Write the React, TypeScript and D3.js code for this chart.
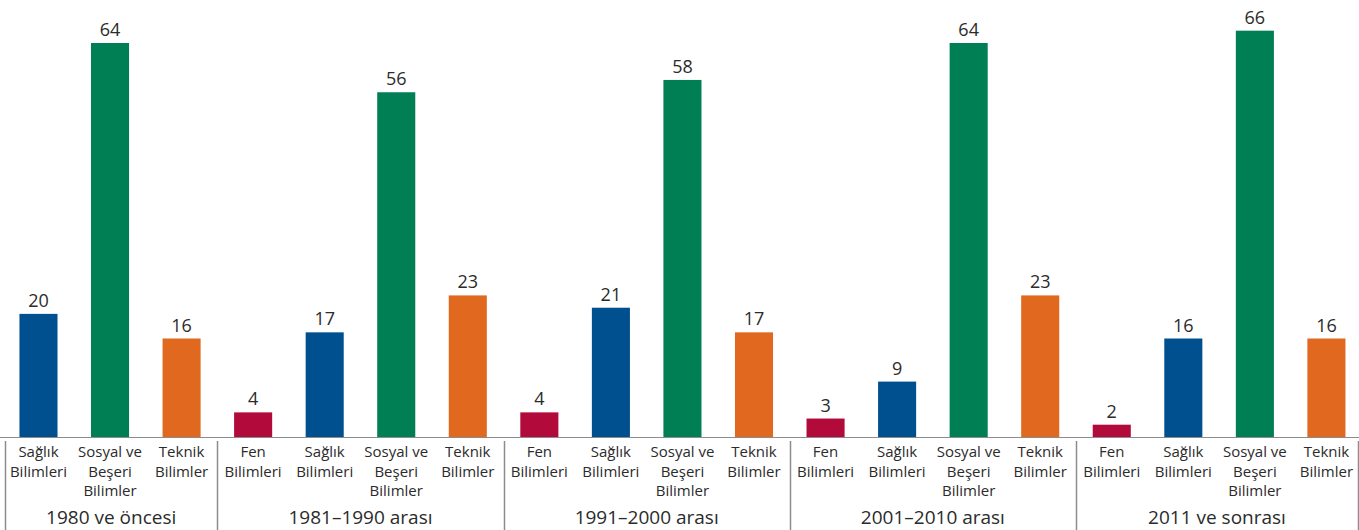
import { useRef, useEffect } from 'react'
import * as d3 from 'd3'

const W = 1359
const H = 530
const BASE_Y = 437
const TOP_Y = 43 // y of value 64
const SEP_LEFT = 5
const SEP_RIGHT = 1358
const FONT = "'Open Sans', sans-serif"
const TEXT = '#2b2b2b'
const LINE = '#8c8c8c'

const groups = ['1980 ve öncesi', '1981–1990 arası', '1991–2000 arası', '2001–2010 arası', '2011 ve sonrası']
const fields = ['Fen Bilimleri', 'Sağlık Bilimleri', 'Sosyal ve Beşeri Bilimler', 'Teknik Bilimler']
const fieldLines = [['Fen', 'Bilimleri'], ['Sağlık', 'Bilimleri'], ['Sosyal ve', 'Beşeri', 'Bilimler'], ['Teknik', 'Bilimler']]
const fieldColors = ['#b20a3a', '#00508f', '#007f55', '#e0681f']

// null = no bar in that period
const fen = [null, 4, 4, 3, 2]
const saglik = [20, 17, 21, 9, 16]
const sosyal = [64, 56, 58, 64, 66]
const teknik = [16, 23, 17, 23, 16]
const series = [fen, saglik, sosyal, teknik]

interface Bar {
  key: string
  group: number
  field: number
  value: number
}

const bars: Bar[] = []
groups.forEach((_, gi) => {
  series.forEach((s, fi) => {
    const v = s[gi]
    if (v == null) return
    bars.push({ key: `${gi}-${fi}`, group: gi, field: fi, value: v })
  })
})

export default function App() {
  const svgRef = useRef<SVGSVGElement>(null)

  useEffect(() => {
    const svg = svgRef.current
    if (!svg) return
    const sel = d3.select(svg)
    sel.selectAll('*').remove()

    const x = d3
      .scaleBand()
      .domain(bars.map((d) => d.key))
      .range([2.7, 1362.2])
      .paddingInner(0.468)
      .paddingOuter(0.234)

    const y = d3.scaleLinear().domain([0, 64]).range([BASE_Y, TOP_Y])
    const step = x.step()

    // bars
    sel
      .append('g')
      .selectAll('rect')
      .data(bars)
      .join('rect')
      .attr('x', (d) => x(d.key)!)
      .attr('width', x.bandwidth())
      .attr('y', (d) => y(d.value))
      .attr('height', (d) => y(0) - y(d.value))
      .attr('fill', (d) => fieldColors[d.field])

    // value labels
    sel
      .append('g')
      .selectAll('text')
      .data(bars)
      .join('text')
      .attr('x', (d) => x(d.key)! + x.bandwidth() / 2)
      .attr('y', (d) => y(d.value) - 7)
      .attr('text-anchor', 'middle')
      .attr('font-family', FONT)
      .attr('font-size', 18)
      .attr('fill', TEXT)
      .text((d) => d.value)

    // baseline
    sel
      .append('line')
      .attr('x1', 0)
      .attr('x2', W)
      .attr('y1', BASE_Y + 0.5)
      .attr('y2', BASE_Y + 0.5)
      .attr('stroke', LINE)
      .attr('stroke-width', 1)

    // category labels
    const cat = sel
      .append('g')
      .selectAll('text')
      .data(bars)
      .join('text')
      .attr('text-anchor', 'middle')
      .attr('font-family', FONT)
      .attr('font-size', 15)
      .attr('fill', TEXT)
    cat
      .selectAll('tspan')
      .data((d) => fieldLines[d.field].map((t) => ({ t, cx: x(d.key)! + x.bandwidth() / 2 })))
      .join('tspan')
      .attr('x', (l) => l.cx)
      .attr('y', (_, i) => 457 + i * 19.5)
      .text((l) => l.t)

    // group separators + labels
    const groupExtents = groups.map((g, gi) => {
      const gb = bars.filter((b) => b.group === gi)
      const first = x(gb[0].key)! - (step - x.bandwidth()) / 2
      const last = x(gb[gb.length - 1].key)! + x.bandwidth() + (step - x.bandwidth()) / 2
      return { g, x0: Math.max(first, SEP_LEFT), x1: Math.min(last, SEP_RIGHT) }
    })
    const sepXs = [groupExtents[0].x0, ...groupExtents.map((e) => e.x1)]

    sel
      .append('g')
      .selectAll('line')
      .data(sepXs)
      .join('line')
      .attr('x1', (d) => Math.round(d) + 0.5)
      .attr('x2', (d) => Math.round(d) + 0.5)
      .attr('y1', 441)
      .attr('y2', H)
      .attr('stroke', LINE)
      .attr('stroke-width', 1.5)

    sel
      .append('g')
      .selectAll('text')
      .data(groupExtents)
      .join('text')
      .attr('x', (d) => (d.x0 + d.x1) / 2)
      .attr('y', 524)
      .attr('text-anchor', 'middle')
      .attr('font-family', FONT)
      .attr('font-size', 19)
      .attr('fill', TEXT)
      .text((d) => d.g)
  }, [])

  return (
    <div style={{ position: 'fixed', left: 0, top: 0, width: W, height: H, background: '#fff' }}>
      <svg ref={svgRef} width={W} height={H} style={{ display: 'block' }} aria-label={fields.join(', ')} />
    </div>
  )
}
